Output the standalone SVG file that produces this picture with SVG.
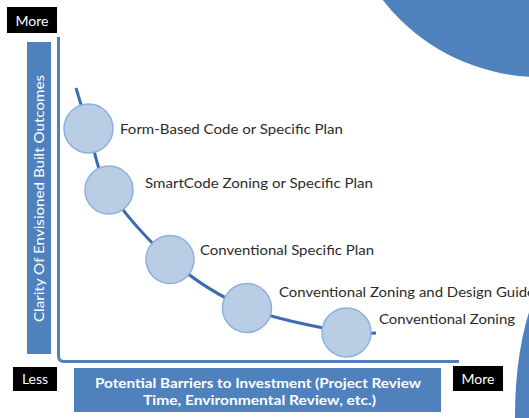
<svg xmlns="http://www.w3.org/2000/svg" width="529" height="418" viewBox="0 0 529 418">
<style>
.bar{fill:#4f81bd;}
.blk{fill:#000;}
.wt{fill:#fff;font-family:Lato,"Open Sans","Liberation Sans",sans-serif;font-size:14px;}
.bt{fill:#fff;font-family:Lato,"Open Sans","Liberation Sans",sans-serif;font-size:13.5px;font-weight:bold;}
.lbl{fill:#2b2b2b;font-family:Lato,"Open Sans","Liberation Sans",sans-serif;font-size:14px;}
.node{fill:#b9cde5;stroke:#8db0dc;stroke-width:1.5;}
.axis{fill:none;stroke:#4f81bd;stroke-width:3;}
.curve{fill:none;stroke:#3a6db0;stroke-width:3;}
</style>
<rect width="529" height="418" fill="#fff"/>
<g id="deco">
<circle cx="540" cy="-122" r="199" fill="#4f81bd"/>
<ellipse cx="575" cy="415" rx="60" ry="160" fill="#4f81bd"/>
</g>
<g id="y-axis-label">
<rect class="bar" x="27" y="42" width="24" height="312"/>
<text class="wt" transform="translate(43.5,198.5) rotate(-90)" text-anchor="middle" textLength="247" lengthAdjust="spacingAndGlyphs">Clarity Of Envisioned Built Outcomes</text>
</g>
<g id="x-axis-label">
<rect class="bar" x="74" y="368" width="367" height="44"/>
<text class="bt" x="258" y="387.5" text-anchor="middle" textLength="326" lengthAdjust="spacingAndGlyphs">Potential Barriers to Investment (Project Review</text>
<text class="bt" x="259.5" y="404.5" text-anchor="middle" textLength="233" lengthAdjust="spacingAndGlyphs">Time, Environmental Review, etc.)</text>
</g>
<g id="more-top">
<rect class="blk" x="7" y="7" width="50" height="26"/>
<text class="wt" x="32" y="25.5" text-anchor="middle">More</text>
</g>
<g id="less">
<rect class="blk" x="13" y="367" width="44" height="24"/>
<text class="wt" x="35" y="383.5" text-anchor="middle">Less</text>
</g>
<g id="more-bottom">
<rect class="blk" x="453" y="366" width="50" height="25"/>
<text class="wt" x="478" y="383.5" text-anchor="middle">More</text>
</g>
<g id="connectors">
<path class="axis" d="M58.5,37 V356 Q58.5,361.5 64,361.5 H459"/>
<path class="curve" d="M76,88 C78.1,94.8 83,111.5 88.5,128.5 C94,145.5 95.4,168.2 109,190 C122.6,211.8 147,239.8 170,259.5 C193,279.2 217.6,295.8 247,308 C276.4,320.2 325,328.3 346.5,332.5 C362,335 371,333 376,333"/>
</g>
<g id="n1">
<circle class="node" cx="88.5" cy="128.5" r="24.5"/>
<text class="lbl" x="120" y="134" textLength="223" lengthAdjust="spacingAndGlyphs">Form-Based Code or Specific Plan</text>
</g>
<g id="n2">
<circle class="node" cx="109" cy="190" r="24"/>
<text class="lbl" x="145" y="188" textLength="228" lengthAdjust="spacingAndGlyphs">SmartCode Zoning or Specific Plan</text>
</g>
<g id="n3">
<circle class="node" cx="170" cy="259.5" r="24"/>
<text class="lbl" x="200" y="255" textLength="174" lengthAdjust="spacingAndGlyphs">Conventional Specific Plan</text>
</g>
<g id="n4">
<circle class="node" cx="247" cy="308" r="24.5"/>
<text class="lbl" x="279" y="296.5" textLength="256" lengthAdjust="spacingAndGlyphs">Conventional Zoning and Design Guide</text>
</g>
<g id="n5">
<circle class="node" cx="346.5" cy="332.5" r="24.5"/>
<text class="lbl" x="379" y="323.5" textLength="136" lengthAdjust="spacingAndGlyphs">Conventional Zoning</text>
</g>
</svg>
